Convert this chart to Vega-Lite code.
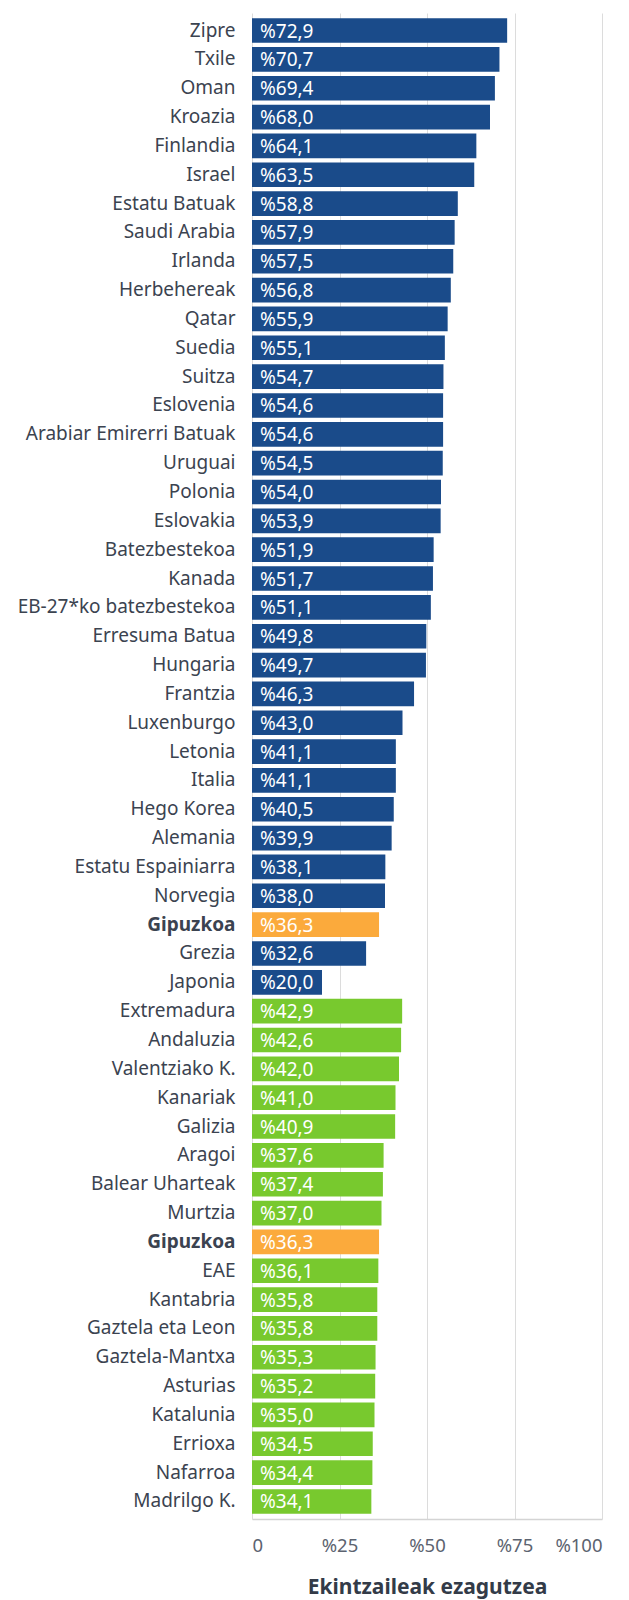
{
  "$schema": "https://vega.github.io/schema/vega-lite/v6.json",
  "autosize": {"type": "none"},
  "padding": {"left": 252, "top": 13, "right": 27, "bottom": 80},
  "width": 350,
  "height": 1506,
  "background": "white",
  "data": {
    "values": [
      {"name": "Zipre", "value": 72.9, "group": "mundua"},
      {"name": "Txile", "value": 70.7, "group": "mundua"},
      {"name": "Oman", "value": 69.4, "group": "mundua"},
      {"name": "Kroazia", "value": 68.0, "group": "mundua"},
      {"name": "Finlandia", "value": 64.1, "group": "mundua"},
      {"name": "Israel", "value": 63.5, "group": "mundua"},
      {"name": "Estatu Batuak", "value": 58.8, "group": "mundua"},
      {"name": "Saudi Arabia", "value": 57.9, "group": "mundua"},
      {"name": "Irlanda", "value": 57.5, "group": "mundua"},
      {"name": "Herbehereak", "value": 56.8, "group": "mundua"},
      {"name": "Qatar", "value": 55.9, "group": "mundua"},
      {"name": "Suedia", "value": 55.1, "group": "mundua"},
      {"name": "Suitza", "value": 54.7, "group": "mundua"},
      {"name": "Eslovenia", "value": 54.6, "group": "mundua"},
      {"name": "Arabiar Emirerri Batuak", "value": 54.6, "group": "mundua"},
      {"name": "Uruguai", "value": 54.5, "group": "mundua"},
      {"name": "Polonia", "value": 54.0, "group": "mundua"},
      {"name": "Eslovakia", "value": 53.9, "group": "mundua"},
      {"name": "Batezbestekoa", "value": 51.9, "group": "mundua"},
      {"name": "Kanada", "value": 51.7, "group": "mundua"},
      {"name": "EB-27*ko batezbestekoa", "value": 51.1, "group": "mundua"},
      {"name": "Erresuma Batua", "value": 49.8, "group": "mundua"},
      {"name": "Hungaria", "value": 49.7, "group": "mundua"},
      {"name": "Frantzia", "value": 46.3, "group": "mundua"},
      {"name": "Luxenburgo", "value": 43.0, "group": "mundua"},
      {"name": "Letonia", "value": 41.1, "group": "mundua"},
      {"name": "Italia", "value": 41.1, "group": "mundua"},
      {"name": "Hego Korea", "value": 40.5, "group": "mundua"},
      {"name": "Alemania", "value": 39.9, "group": "mundua"},
      {"name": "Estatu Espainiarra", "value": 38.1, "group": "mundua"},
      {"name": "Norvegia", "value": 38.0, "group": "mundua"},
      {"name": "Gipuzkoa|1", "value": 36.3, "group": "gipuzkoa"},
      {"name": "Grezia", "value": 32.6, "group": "mundua"},
      {"name": "Japonia", "value": 20.0, "group": "mundua"},
      {"name": "Extremadura", "value": 42.9, "group": "estatua"},
      {"name": "Andaluzia", "value": 42.6, "group": "estatua"},
      {"name": "Valentziako K.", "value": 42.0, "group": "estatua"},
      {"name": "Kanariak", "value": 41.0, "group": "estatua"},
      {"name": "Galizia", "value": 40.9, "group": "estatua"},
      {"name": "Aragoi", "value": 37.6, "group": "estatua"},
      {"name": "Balear Uharteak", "value": 37.4, "group": "estatua"},
      {"name": "Murtzia", "value": 37.0, "group": "estatua"},
      {"name": "Gipuzkoa|2", "value": 36.3, "group": "gipuzkoa"},
      {"name": "EAE", "value": 36.1, "group": "estatua"},
      {"name": "Kantabria", "value": 35.8, "group": "estatua"},
      {"name": "Gaztela eta Leon", "value": 35.8, "group": "estatua"},
      {"name": "Gaztela-Mantxa", "value": 35.3, "group": "estatua"},
      {"name": "Asturias", "value": 35.2, "group": "estatua"},
      {"name": "Katalunia", "value": 35.0, "group": "estatua"},
      {"name": "Errioxa", "value": 34.5, "group": "estatua"},
      {"name": "Nafarroa", "value": 34.4, "group": "estatua"},
      {"name": "Madrilgo K.", "value": 34.1, "group": "estatua"}
    ]
  },
  "transform": [
    {"calculate": "'%' + replace(format(datum.value, '.1f'), '.', ',')", "as": "label"}
  ],
  "encoding": {
    "y": {
      "field": "name",
      "type": "nominal",
      "sort": null,
      "scale": {"paddingInner": 0.145, "paddingOuter": 0.18},
      "axis": {
        "title": null,
        "ticks": false,
        "domain": false,
        "labelPadding": 17,
        "labelFont": "Noto Sans",
        "labelFontSize": 19,
        "labelColor": "#3b4350",
        "labelLimit": 260,
        "labelExpr": "split(datum.label, '|')[0]",
        "labelFontWeight": {"condition": {"test": "indexof(datum.label, 'Gipuzkoa') == 0", "value": "bold"}, "value": "normal"}
      }
    }
  },
  "layer": [
    {
      "mark": {"type": "bar"},
      "encoding": {
        "x": {
          "field": "value",
          "type": "quantitative",
          "scale": {"domain": [0, 100], "nice": false},
          "axis": {
            "title": "Ekintzaileak ezagutzea",
            "values": [0, 25, 50, 75, 100],
            "labelExpr": "datum.value == 0 ? '0' : '%' + datum.value",
            "ticks": false,
            "domain": true,
            "domainColor": "#d4d4d4",
            "domainWidth": 1.5,
            "grid": true,
            "gridColor": "#dcdcdc",
            "gridWidth": 1,
            "labelFont": "Noto Sans",
            "labelFontSize": 18.5,
            "labelColor": "#5c6370",
            "labelPadding": 17,
            "titleFont": "Noto Sans",
            "titleFontSize": 21,
            "titleFontWeight": "bold",
            "titleColor": "#333b48",
            "titlePadding": 22
          }
        },
        "color": {
          "field": "group",
          "type": "nominal",
          "scale": {"domain": ["mundua", "gipuzkoa", "estatua"], "range": ["#1a4b8a", "#fbaa3c", "#78c92e"]},
          "legend": null
        }
      }
    },
    {
      "mark": {"type": "text", "align": "left", "baseline": "middle", "dx": 8, "dy": 1, "font": "Noto Sans", "fontSize": 19, "color": "white"},
      "encoding": {
        "x": {"datum": 0, "type": "quantitative"},
        "text": {"field": "label", "type": "nominal"}
      }
    }
  ],
  "config": {"view": {"stroke": null}}
}
